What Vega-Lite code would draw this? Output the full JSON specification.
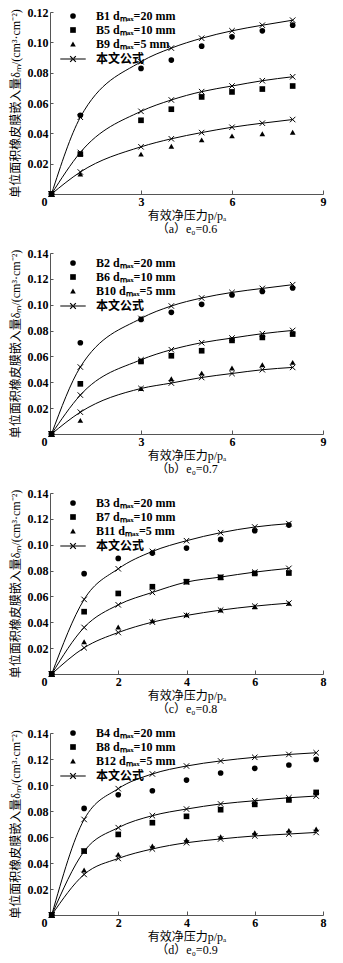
{
  "$schema": "https://vega.github.io/schema/vega-lite/v6.json",
  "padding": {"top": 6, "left": 9, "right": 5, "bottom": 5},
  "bounds": "flush",
  "spacing": 59,
  "datasets": {
    "pts": [
      {"panel":"a","s":"B1 dₘₐₓ=20 mm","kind":"obs","p":0.05,"v":0},
      {"panel":"a","s":"B1 dₘₐₓ=20 mm","kind":"obs","p":1,"v":0.0519},
      {"panel":"a","s":"B1 dₘₐₓ=20 mm","kind":"obs","p":3,"v":0.0828},
      {"panel":"a","s":"B1 dₘₐₓ=20 mm","kind":"obs","p":4,"v":0.0883},
      {"panel":"a","s":"B1 dₘₐₓ=20 mm","kind":"obs","p":5,"v":0.0975},
      {"panel":"a","s":"B1 dₘₐₓ=20 mm","kind":"obs","p":6,"v":0.1036},
      {"panel":"a","s":"B1 dₘₐₓ=20 mm","kind":"obs","p":7,"v":0.1076},
      {"panel":"a","s":"B1 dₘₐₓ=20 mm","kind":"obs","p":8,"v":0.1113},
      {"panel":"a","s":"B1 dₘₐₓ=20 mm","kind":"fit","p":0.05,"v":0},
      {"panel":"a","s":"B1 dₘₐₓ=20 mm","kind":"fit","p":1,"v":0.0506},
      {"panel":"a","s":"B1 dₘₐₓ=20 mm","kind":"fit","p":3,"v":0.0872},
      {"panel":"a","s":"B1 dₘₐₓ=20 mm","kind":"fit","p":4,"v":0.0962},
      {"panel":"a","s":"B1 dₘₐₓ=20 mm","kind":"fit","p":5,"v":0.1027},
      {"panel":"a","s":"B1 dₘₐₓ=20 mm","kind":"fit","p":6,"v":0.1076},
      {"panel":"a","s":"B1 dₘₐₓ=20 mm","kind":"fit","p":7,"v":0.1113},
      {"panel":"a","s":"B1 dₘₐₓ=20 mm","kind":"fit","p":8,"v":0.1146},
      {"panel":"a","s":"B5 dₘₐₓ=10 mm","kind":"obs","p":0.05,"v":0},
      {"panel":"a","s":"B5 dₘₐₓ=10 mm","kind":"obs","p":1,"v":0.0263},
      {"panel":"a","s":"B5 dₘₐₓ=10 mm","kind":"obs","p":3,"v":0.0486},
      {"panel":"a","s":"B5 dₘₐₓ=10 mm","kind":"obs","p":4,"v":0.0559},
      {"panel":"a","s":"B5 dₘₐₓ=10 mm","kind":"obs","p":5,"v":0.064},
      {"panel":"a","s":"B5 dₘₐₓ=10 mm","kind":"obs","p":6,"v":0.0673},
      {"panel":"a","s":"B5 dₘₐₓ=10 mm","kind":"obs","p":7,"v":0.0692},
      {"panel":"a","s":"B5 dₘₐₓ=10 mm","kind":"obs","p":8,"v":0.0712},
      {"panel":"a","s":"B5 dₘₐₓ=10 mm","kind":"fit","p":0.05,"v":0},
      {"panel":"a","s":"B5 dₘₐₓ=10 mm","kind":"fit","p":1,"v":0.0274},
      {"panel":"a","s":"B5 dₘₐₓ=10 mm","kind":"fit","p":3,"v":0.0545},
      {"panel":"a","s":"B5 dₘₐₓ=10 mm","kind":"fit","p":4,"v":0.062},
      {"panel":"a","s":"B5 dₘₐₓ=10 mm","kind":"fit","p":5,"v":0.0675},
      {"panel":"a","s":"B5 dₘₐₓ=10 mm","kind":"fit","p":6,"v":0.0712},
      {"panel":"a","s":"B5 dₘₐₓ=10 mm","kind":"fit","p":7,"v":0.0747},
      {"panel":"a","s":"B5 dₘₐₓ=10 mm","kind":"fit","p":8,"v":0.0773},
      {"panel":"a","s":"B9 dₘₐₓ=5 mm","kind":"obs","p":0.05,"v":0},
      {"panel":"a","s":"B9 dₘₐₓ=5 mm","kind":"obs","p":1,"v":0.0131},
      {"panel":"a","s":"B9 dₘₐₓ=5 mm","kind":"obs","p":3,"v":0.0263},
      {"panel":"a","s":"B9 dₘₐₓ=5 mm","kind":"obs","p":4,"v":0.0315},
      {"panel":"a","s":"B9 dₘₐₓ=5 mm","kind":"obs","p":5,"v":0.0357},
      {"panel":"a","s":"B9 dₘₐₓ=5 mm","kind":"obs","p":6,"v":0.0383},
      {"panel":"a","s":"B9 dₘₐₓ=5 mm","kind":"obs","p":7,"v":0.0397},
      {"panel":"a","s":"B9 dₘₐₓ=5 mm","kind":"obs","p":8,"v":0.0407},
      {"panel":"a","s":"B9 dₘₐₓ=5 mm","kind":"fit","p":0.05,"v":0},
      {"panel":"a","s":"B9 dₘₐₓ=5 mm","kind":"fit","p":1,"v":0.0145},
      {"panel":"a","s":"B9 dₘₐₓ=5 mm","kind":"fit","p":3,"v":0.0311},
      {"panel":"a","s":"B9 dₘₐₓ=5 mm","kind":"fit","p":4,"v":0.0364},
      {"panel":"a","s":"B9 dₘₐₓ=5 mm","kind":"fit","p":5,"v":0.0405},
      {"panel":"a","s":"B9 dₘₐₓ=5 mm","kind":"fit","p":6,"v":0.044},
      {"panel":"a","s":"B9 dₘₐₓ=5 mm","kind":"fit","p":7,"v":0.0467},
      {"panel":"a","s":"B9 dₘₐₓ=5 mm","kind":"fit","p":8,"v":0.0491},

      {"panel":"b","s":"B2 dₘₐₓ=20 mm","kind":"obs","p":0.05,"v":0},
      {"panel":"b","s":"B2 dₘₐₓ=20 mm","kind":"obs","p":1,"v":0.0706},
      {"panel":"b","s":"B2 dₘₐₓ=20 mm","kind":"obs","p":3,"v":0.0886},
      {"panel":"b","s":"B2 dₘₐₓ=20 mm","kind":"obs","p":4,"v":0.0941},
      {"panel":"b","s":"B2 dₘₐₓ=20 mm","kind":"obs","p":5,"v":0.1003},
      {"panel":"b","s":"B2 dₘₐₓ=20 mm","kind":"obs","p":6,"v":0.1075},
      {"panel":"b","s":"B2 dₘₐₓ=20 mm","kind":"obs","p":7,"v":0.1103},
      {"panel":"b","s":"B2 dₘₐₓ=20 mm","kind":"obs","p":8,"v":0.1129},
      {"panel":"b","s":"B2 dₘₐₓ=20 mm","kind":"fit","p":0.05,"v":0},
      {"panel":"b","s":"B2 dₘₐₓ=20 mm","kind":"fit","p":1,"v":0.0518},
      {"panel":"b","s":"B2 dₘₐₓ=20 mm","kind":"fit","p":3,"v":0.0894},
      {"panel":"b","s":"B2 dₘₐₓ=20 mm","kind":"fit","p":4,"v":0.099},
      {"panel":"b","s":"B2 dₘₐₓ=20 mm","kind":"fit","p":5,"v":0.1052},
      {"panel":"b","s":"B2 dₘₐₓ=20 mm","kind":"fit","p":6,"v":0.1095},
      {"panel":"b","s":"B2 dₘₐₓ=20 mm","kind":"fit","p":7,"v":0.1126},
      {"panel":"b","s":"B2 dₘₐₓ=20 mm","kind":"fit","p":8,"v":0.1155},
      {"panel":"b","s":"B6 dₘₐₓ=10 mm","kind":"obs","p":0.05,"v":0},
      {"panel":"b","s":"B6 dₘₐₓ=10 mm","kind":"obs","p":1,"v":0.0388},
      {"panel":"b","s":"B6 dₘₐₓ=10 mm","kind":"obs","p":3,"v":0.0561},
      {"panel":"b","s":"B6 dₘₐₓ=10 mm","kind":"obs","p":4,"v":0.0605},
      {"panel":"b","s":"B6 dₘₐₓ=10 mm","kind":"obs","p":5,"v":0.0644},
      {"panel":"b","s":"B6 dₘₐₓ=10 mm","kind":"obs","p":6,"v":0.0724},
      {"panel":"b","s":"B6 dₘₐₓ=10 mm","kind":"obs","p":7,"v":0.0747},
      {"panel":"b","s":"B6 dₘₐₓ=10 mm","kind":"obs","p":8,"v":0.0773},
      {"panel":"b","s":"B6 dₘₐₓ=10 mm","kind":"fit","p":0.05,"v":0},
      {"panel":"b","s":"B6 dₘₐₓ=10 mm","kind":"fit","p":1,"v":0.0301},
      {"panel":"b","s":"B6 dₘₐₓ=10 mm","kind":"fit","p":3,"v":0.0574},
      {"panel":"b","s":"B6 dₘₐₓ=10 mm","kind":"fit","p":4,"v":0.0652},
      {"panel":"b","s":"B6 dₘₐₓ=10 mm","kind":"fit","p":5,"v":0.0706},
      {"panel":"b","s":"B6 dₘₐₓ=10 mm","kind":"fit","p":6,"v":0.0742},
      {"panel":"b","s":"B6 dₘₐₓ=10 mm","kind":"fit","p":7,"v":0.0776},
      {"panel":"b","s":"B6 dₘₐₓ=10 mm","kind":"fit","p":8,"v":0.0801},
      {"panel":"b","s":"B10 dₘₐₓ=5 mm","kind":"obs","p":0.05,"v":0},
      {"panel":"b","s":"B10 dₘₐₓ=5 mm","kind":"obs","p":1,"v":0.0105},
      {"panel":"b","s":"B10 dₘₐₓ=5 mm","kind":"obs","p":3,"v":0.0352},
      {"panel":"b","s":"B10 dₘₐₓ=5 mm","kind":"obs","p":4,"v":0.0427},
      {"panel":"b","s":"B10 dₘₐₓ=5 mm","kind":"obs","p":5,"v":0.0471},
      {"panel":"b","s":"B10 dₘₐₓ=5 mm","kind":"obs","p":6,"v":0.051},
      {"panel":"b","s":"B10 dₘₐₓ=5 mm","kind":"obs","p":7,"v":0.0536},
      {"panel":"b","s":"B10 dₘₐₓ=5 mm","kind":"obs","p":8,"v":0.0554},
      {"panel":"b","s":"B10 dₘₐₓ=5 mm","kind":"fit","p":0.05,"v":0},
      {"panel":"b","s":"B10 dₘₐₓ=5 mm","kind":"fit","p":1,"v":0.0169},
      {"panel":"b","s":"B10 dₘₐₓ=5 mm","kind":"fit","p":3,"v":0.0352},
      {"panel":"b","s":"B10 dₘₐₓ=5 mm","kind":"fit","p":4,"v":0.0394},
      {"panel":"b","s":"B10 dₘₐₓ=5 mm","kind":"fit","p":5,"v":0.0437},
      {"panel":"b","s":"B10 dₘₐₓ=5 mm","kind":"fit","p":6,"v":0.0468},
      {"panel":"b","s":"B10 dₘₐₓ=5 mm","kind":"fit","p":7,"v":0.0497},
      {"panel":"b","s":"B10 dₘₐₓ=5 mm","kind":"fit","p":8,"v":0.0515},

      {"panel":"c","s":"B3 dₘₐₓ=20 mm","kind":"obs","p":0.05,"v":0},
      {"panel":"c","s":"B3 dₘₐₓ=20 mm","kind":"obs","p":1,"v":0.0776},
      {"panel":"c","s":"B3 dₘₐₓ=20 mm","kind":"obs","p":2,"v":0.0894},
      {"panel":"c","s":"B3 dₘₐₓ=20 mm","kind":"obs","p":3,"v":0.0935},
      {"panel":"c","s":"B3 dₘₐₓ=20 mm","kind":"obs","p":4,"v":0.0974},
      {"panel":"c","s":"B3 dₘₐₓ=20 mm","kind":"obs","p":5,"v":0.1041},
      {"panel":"c","s":"B3 dₘₐₓ=20 mm","kind":"obs","p":6,"v":0.1108},
      {"panel":"c","s":"B3 dₘₐₓ=20 mm","kind":"obs","p":7,"v":0.1152},
      {"panel":"c","s":"B3 dₘₐₓ=20 mm","kind":"fit","p":0.05,"v":0},
      {"panel":"c","s":"B3 dₘₐₓ=20 mm","kind":"fit","p":1,"v":0.0577},
      {"panel":"c","s":"B3 dₘₐₓ=20 mm","kind":"fit","p":2,"v":0.0814},
      {"panel":"c","s":"B3 dₘₐₓ=20 mm","kind":"fit","p":3,"v":0.0948},
      {"panel":"c","s":"B3 dₘₐₓ=20 mm","kind":"fit","p":4,"v":0.1031},
      {"panel":"c","s":"B3 dₘₐₓ=20 mm","kind":"fit","p":5,"v":0.1093},
      {"panel":"c","s":"B3 dₘₐₓ=20 mm","kind":"fit","p":6,"v":0.1137},
      {"panel":"c","s":"B3 dₘₐₓ=20 mm","kind":"fit","p":7,"v":0.1163},
      {"panel":"c","s":"B7 dₘₐₓ=10 mm","kind":"obs","p":0.05,"v":0},
      {"panel":"c","s":"B7 dₘₐₓ=10 mm","kind":"obs","p":1,"v":0.0482},
      {"panel":"c","s":"B7 dₘₐₓ=10 mm","kind":"obs","p":2,"v":0.0623},
      {"panel":"c","s":"B7 dₘₐₓ=10 mm","kind":"obs","p":3,"v":0.0675},
      {"panel":"c","s":"B7 dₘₐₓ=10 mm","kind":"obs","p":4,"v":0.0714},
      {"panel":"c","s":"B7 dₘₐₓ=10 mm","kind":"obs","p":5,"v":0.0747},
      {"panel":"c","s":"B7 dₘₐₓ=10 mm","kind":"obs","p":6,"v":0.0778},
      {"panel":"c","s":"B7 dₘₐₓ=10 mm","kind":"obs","p":7,"v":0.0781},
      {"panel":"c","s":"B7 dₘₐₓ=10 mm","kind":"fit","p":0.05,"v":0},
      {"panel":"c","s":"B7 dₘₐₓ=10 mm","kind":"fit","p":1,"v":0.036},
      {"panel":"c","s":"B7 dₘₐₓ=10 mm","kind":"fit","p":2,"v":0.0535},
      {"panel":"c","s":"B7 dₘₐₓ=10 mm","kind":"fit","p":3,"v":0.0631},
      {"panel":"c","s":"B7 dₘₐₓ=10 mm","kind":"fit","p":4,"v":0.0711},
      {"panel":"c","s":"B7 dₘₐₓ=10 mm","kind":"fit","p":5,"v":0.075},
      {"panel":"c","s":"B7 dₘₐₓ=10 mm","kind":"fit","p":6,"v":0.0788},
      {"panel":"c","s":"B7 dₘₐₓ=10 mm","kind":"fit","p":7,"v":0.0817},
      {"panel":"c","s":"B11 dₘₐₓ=5 mm","kind":"obs","p":0.05,"v":0},
      {"panel":"c","s":"B11 dₘₐₓ=5 mm","kind":"obs","p":1,"v":0.0249},
      {"panel":"c","s":"B11 dₘₐₓ=5 mm","kind":"obs","p":2,"v":0.0363},
      {"panel":"c","s":"B11 dₘₐₓ=5 mm","kind":"obs","p":3,"v":0.0412},
      {"panel":"c","s":"B11 dₘₐₓ=5 mm","kind":"obs","p":4,"v":0.0458},
      {"panel":"c","s":"B11 dₘₐₓ=5 mm","kind":"obs","p":5,"v":0.0494},
      {"panel":"c","s":"B11 dₘₐₓ=5 mm","kind":"obs","p":6,"v":0.052},
      {"panel":"c","s":"B11 dₘₐₓ=5 mm","kind":"obs","p":7,"v":0.0546},
      {"panel":"c","s":"B11 dₘₐₓ=5 mm","kind":"fit","p":0.05,"v":0},
      {"panel":"c","s":"B11 dₘₐₓ=5 mm","kind":"fit","p":1,"v":0.0203},
      {"panel":"c","s":"B11 dₘₐₓ=5 mm","kind":"fit","p":2,"v":0.0321},
      {"panel":"c","s":"B11 dₘₐₓ=5 mm","kind":"fit","p":3,"v":0.0401},
      {"panel":"c","s":"B11 dₘₐₓ=5 mm","kind":"fit","p":4,"v":0.0453},
      {"panel":"c","s":"B11 dₘₐₓ=5 mm","kind":"fit","p":5,"v":0.0494},
      {"panel":"c","s":"B11 dₘₐₓ=5 mm","kind":"fit","p":6,"v":0.0525},
      {"panel":"c","s":"B11 dₘₐₓ=5 mm","kind":"fit","p":7,"v":0.0548},

      {"panel":"d","s":"B4 dₘₐₓ=20 mm","kind":"obs","p":0.05,"v":0},
      {"panel":"d","s":"B4 dₘₐₓ=20 mm","kind":"obs","p":1,"v":0.082},
      {"panel":"d","s":"B4 dₘₐₓ=20 mm","kind":"obs","p":2,"v":0.0925},
      {"panel":"d","s":"B4 dₘₐₓ=20 mm","kind":"obs","p":3,"v":0.0956},
      {"panel":"d","s":"B4 dₘₐₓ=20 mm","kind":"obs","p":4,"v":0.1038},
      {"panel":"d","s":"B4 dₘₐₓ=20 mm","kind":"obs","p":5,"v":0.1092},
      {"panel":"d","s":"B4 dₘₐₓ=20 mm","kind":"obs","p":6,"v":0.1128},
      {"panel":"d","s":"B4 dₘₐₓ=20 mm","kind":"obs","p":7,"v":0.1154},
      {"panel":"d","s":"B4 dₘₐₓ=20 mm","kind":"obs","p":7.8,"v":0.1197},
      {"panel":"d","s":"B4 dₘₐₓ=20 mm","kind":"fit","p":0.05,"v":0},
      {"panel":"d","s":"B4 dₘₐₓ=20 mm","kind":"fit","p":1,"v":0.0735},
      {"panel":"d","s":"B4 dₘₐₓ=20 mm","kind":"fit","p":2,"v":0.0972},
      {"panel":"d","s":"B4 dₘₐₓ=20 mm","kind":"fit","p":3,"v":0.1085},
      {"panel":"d","s":"B4 dₘₐₓ=20 mm","kind":"fit","p":4,"v":0.1146},
      {"panel":"d","s":"B4 dₘₐₓ=20 mm","kind":"fit","p":5,"v":0.1185},
      {"panel":"d","s":"B4 dₘₐₓ=20 mm","kind":"fit","p":6,"v":0.1213},
      {"panel":"d","s":"B4 dₘₐₓ=20 mm","kind":"fit","p":7,"v":0.1235},
      {"panel":"d","s":"B4 dₘₐₓ=20 mm","kind":"fit","p":7.8,"v":0.1248},
      {"panel":"d","s":"B8 dₘₐₓ=10 mm","kind":"obs","p":0.05,"v":0},
      {"panel":"d","s":"B8 dₘₐₓ=10 mm","kind":"obs","p":1,"v":0.0492},
      {"panel":"d","s":"B8 dₘₐₓ=10 mm","kind":"obs","p":2,"v":0.062},
      {"panel":"d","s":"B8 dₘₐₓ=10 mm","kind":"obs","p":3,"v":0.071},
      {"panel":"d","s":"B8 dₘₐₓ=10 mm","kind":"obs","p":4,"v":0.0759},
      {"panel":"d","s":"B8 dₘₐₓ=10 mm","kind":"obs","p":5,"v":0.081},
      {"panel":"d","s":"B8 dₘₐₓ=10 mm","kind":"obs","p":6,"v":0.0851},
      {"panel":"d","s":"B8 dₘₐₓ=10 mm","kind":"obs","p":7,"v":0.0885},
      {"panel":"d","s":"B8 dₘₐₓ=10 mm","kind":"obs","p":7.8,"v":0.0943},
      {"panel":"d","s":"B8 dₘₐₓ=10 mm","kind":"fit","p":0.05,"v":0},
      {"panel":"d","s":"B8 dₘₐₓ=10 mm","kind":"fit","p":1,"v":0.049},
      {"panel":"d","s":"B8 dₘₐₓ=10 mm","kind":"fit","p":2,"v":0.0672},
      {"panel":"d","s":"B8 dₘₐₓ=10 mm","kind":"fit","p":3,"v":0.0764},
      {"panel":"d","s":"B8 dₘₐₓ=10 mm","kind":"fit","p":4,"v":0.0815},
      {"panel":"d","s":"B8 dₘₐₓ=10 mm","kind":"fit","p":5,"v":0.0854},
      {"panel":"d","s":"B8 dₘₐₓ=10 mm","kind":"fit","p":6,"v":0.0879},
      {"panel":"d","s":"B8 dₘₐₓ=10 mm","kind":"fit","p":7,"v":0.0902},
      {"panel":"d","s":"B8 dₘₐₓ=10 mm","kind":"fit","p":7.8,"v":0.0915},
      {"panel":"d","s":"B12 dₘₐₓ=5 mm","kind":"obs","p":0.05,"v":0},
      {"panel":"d","s":"B12 dₘₐₓ=5 mm","kind":"obs","p":1,"v":0.0346},
      {"panel":"d","s":"B12 dₘₐₓ=5 mm","kind":"obs","p":2,"v":0.0466},
      {"panel":"d","s":"B12 dₘₐₓ=5 mm","kind":"obs","p":3,"v":0.0531},
      {"panel":"d","s":"B12 dₘₐₓ=5 mm","kind":"obs","p":4,"v":0.0577},
      {"panel":"d","s":"B12 dₘₐₓ=5 mm","kind":"obs","p":5,"v":0.0602},
      {"panel":"d","s":"B12 dₘₐₓ=5 mm","kind":"obs","p":6,"v":0.0633},
      {"panel":"d","s":"B12 dₘₐₓ=5 mm","kind":"obs","p":7,"v":0.0651},
      {"panel":"d","s":"B12 dₘₐₓ=5 mm","kind":"obs","p":7.8,"v":0.0662},
      {"panel":"d","s":"B12 dₘₐₓ=5 mm","kind":"fit","p":0.05,"v":0},
      {"panel":"d","s":"B12 dₘₐₓ=5 mm","kind":"fit","p":1,"v":0.0312},
      {"panel":"d","s":"B12 dₘₐₓ=5 mm","kind":"fit","p":2,"v":0.0435},
      {"panel":"d","s":"B12 dₘₐₓ=5 mm","kind":"fit","p":3,"v":0.0508},
      {"panel":"d","s":"B12 dₘₐₓ=5 mm","kind":"fit","p":4,"v":0.0556},
      {"panel":"d","s":"B12 dₘₐₓ=5 mm","kind":"fit","p":5,"v":0.0585},
      {"panel":"d","s":"B12 dₘₐₓ=5 mm","kind":"fit","p":6,"v":0.0608},
      {"panel":"d","s":"B12 dₘₐₓ=5 mm","kind":"fit","p":7,"v":0.0623},
      {"panel":"d","s":"B12 dₘₐₓ=5 mm","kind":"fit","p":7.8,"v":0.0635}
    ]
  },
  "data": {"name": "pts"},
  "resolve": {"scale": {"shape": "independent", "x": "independent", "y": "independent"}, "legend": {"shape": "independent"}},
  "vconcat": [
    {
      "width": 273, "height": 182,
      "transform": [{"filter": "datum.panel === 'a'"}],
      "encoding": {
        "x": {"field": "p", "type": "quantitative", "scale": {"domain": [0, 9], "nice": false},
              "axis": {"values": [0, 3, 6, 9], "format": "d", "title": ["有效净压力p/pₐ", "（a）e₀=0.6"],
                       "labelOffset": {"condition": {"test": "datum.value === 0", "value": -6}, "value": 0}}},
        "y": {"field": "v", "type": "quantitative", "scale": {"domain": [0, 0.12], "nice": false},
              "axis": {"values": [0.02, 0.04, 0.06, 0.08, 0.1, 0.12], "format": ".2f", "title": "单位面积橡皮膜嵌入量δₘ/(cm³·cm⁻²)"}}
      },
      "layer": [
        {"transform": [{"filter": "datum.kind === 'fit'"}], "mark": {"type": "line", "interpolate": "monotone", "color": "black", "strokeWidth": 1}, "encoding": {"detail": {"field": "s"}}},
        {"transform": [{"filter": "datum.kind === 'fit'"}], "mark": {"type": "point", "shape": "M-1,-1L1,1M-1,1L1,-1", "stroke": "black", "strokeWidth": 1, "size": 30, "opacity": 1}},
        {"transform": [{"filter": "datum.kind === 'obs'"}], "mark": {"type": "point", "filled": true, "color": "black", "size": 32, "opacity": 1},
         "encoding": {"shape": {"field": "s", "type": "nominal",
           "scale": {"domain": ["B1 dₘₐₓ=20 mm", "B5 dₘₐₓ=10 mm", "B9 dₘₐₓ=5 mm", "本文公式"], "range": ["circle", "square", "triangle-up", "M-4.5,-0.18L4.5,-0.18L4.5,0.18L-4.5,0.18Z M-1.15,-0.85L-0.85,-1.15L1.15,0.85L0.85,1.15Z M-1.15,0.85L-0.85,1.15L1.15,-0.85L0.85,-1.15Z"]},
           "legend": {"legendX": 17, "legendY": -2}}}}
      ]
    },
    {
      "width": 273, "height": 181,
      "transform": [{"filter": "datum.panel === 'b'"}],
      "encoding": {
        "x": {"field": "p", "type": "quantitative", "scale": {"domain": [0, 9], "nice": false},
              "axis": {"values": [0, 3, 6, 9], "format": "d", "title": ["有效净压力p/pₐ", "（b）e₀=0.7"],
                       "labelOffset": {"condition": {"test": "datum.value === 0", "value": -6}, "value": 0}}},
        "y": {"field": "v", "type": "quantitative", "scale": {"domain": [0, 0.14], "nice": false},
              "axis": {"values": [0.02, 0.04, 0.06, 0.08, 0.1, 0.12, 0.14], "format": ".2f", "title": "单位面积橡皮膜嵌入量δₘ/(cm³·cm⁻²)"}}
      },
      "layer": [
        {"transform": [{"filter": "datum.kind === 'fit'"}], "mark": {"type": "line", "interpolate": "monotone", "color": "black", "strokeWidth": 1}, "encoding": {"detail": {"field": "s"}}},
        {"transform": [{"filter": "datum.kind === 'fit'"}], "mark": {"type": "point", "shape": "M-1,-1L1,1M-1,1L1,-1", "stroke": "black", "strokeWidth": 1, "size": 30, "opacity": 1}},
        {"transform": [{"filter": "datum.kind === 'obs'"}], "mark": {"type": "point", "filled": true, "color": "black", "size": 32, "opacity": 1},
         "encoding": {"shape": {"field": "s", "type": "nominal",
           "scale": {"domain": ["B2 dₘₐₓ=20 mm", "B6 dₘₐₓ=10 mm", "B10 dₘₐₓ=5 mm", "本文公式"], "range": ["circle", "square", "triangle-up", "M-4.5,-0.18L4.5,-0.18L4.5,0.18L-4.5,0.18Z M-1.15,-0.85L-0.85,-1.15L1.15,0.85L0.85,1.15Z M-1.15,0.85L-0.85,1.15L1.15,-0.85L0.85,-1.15Z"]},
           "legend": {"legendX": 17, "legendY": 4}}}}
      ]
    },
    {
      "width": 273, "height": 181,
      "transform": [{"filter": "datum.panel === 'c'"}],
      "encoding": {
        "x": {"field": "p", "type": "quantitative", "scale": {"domain": [0, 8], "nice": false},
              "axis": {"values": [0, 2, 4, 6, 8], "format": "d", "title": ["有效净压力p/pₐ", "（c）e₀=0.8"],
                       "labelOffset": {"condition": {"test": "datum.value === 0", "value": -6}, "value": 0}}},
        "y": {"field": "v", "type": "quantitative", "scale": {"domain": [0, 0.14], "nice": false},
              "axis": {"values": [0.02, 0.04, 0.06, 0.08, 0.1, 0.12, 0.14], "format": ".2f", "title": "单位面积橡皮膜嵌入量δₘ/(cm³·cm⁻²)"}}
      },
      "layer": [
        {"transform": [{"filter": "datum.kind === 'fit'"}], "mark": {"type": "line", "interpolate": "monotone", "color": "black", "strokeWidth": 1}, "encoding": {"detail": {"field": "s"}}},
        {"transform": [{"filter": "datum.kind === 'fit'"}], "mark": {"type": "point", "shape": "M-1,-1L1,1M-1,1L1,-1", "stroke": "black", "strokeWidth": 1, "size": 30, "opacity": 1}},
        {"transform": [{"filter": "datum.kind === 'obs'"}], "mark": {"type": "point", "filled": true, "color": "black", "size": 32, "opacity": 1},
         "encoding": {"shape": {"field": "s", "type": "nominal",
           "scale": {"domain": ["B3 dₘₐₓ=20 mm", "B7 dₘₐₓ=10 mm", "B11 dₘₐₓ=5 mm", "本文公式"], "range": ["circle", "square", "triangle-up", "M-4.5,-0.18L4.5,-0.18L4.5,0.18L-4.5,0.18Z M-1.15,-0.85L-0.85,-1.15L1.15,0.85L0.85,1.15Z M-1.15,0.85L-0.85,1.15L1.15,-0.85L0.85,-1.15Z"]},
           "legend": {"legendX": 17, "legendY": 4}}}}
      ]
    },
    {
      "width": 273, "height": 182,
      "transform": [{"filter": "datum.panel === 'd'"}],
      "encoding": {
        "x": {"field": "p", "type": "quantitative", "scale": {"domain": [0, 8], "nice": false},
              "axis": {"values": [0, 2, 4, 6, 8], "format": "d", "title": ["有效净压力p/pₐ", "（d）e₀=0.9"],
                       "labelOffset": {"condition": {"test": "datum.value === 0", "value": -6}, "value": 0}}},
        "y": {"field": "v", "type": "quantitative", "scale": {"domain": [0, 0.14], "nice": false},
              "axis": {"values": [0.02, 0.04, 0.06, 0.08, 0.1, 0.12, 0.14], "format": ".2f", "title": "单位面积橡皮膜嵌入量δₘ/(cm³·cm⁻²)"}}
      },
      "layer": [
        {"transform": [{"filter": "datum.kind === 'fit'"}], "mark": {"type": "line", "interpolate": "monotone", "color": "black", "strokeWidth": 1}, "encoding": {"detail": {"field": "s"}}},
        {"transform": [{"filter": "datum.kind === 'fit'"}], "mark": {"type": "point", "shape": "M-1,-1L1,1M-1,1L1,-1", "stroke": "black", "strokeWidth": 1, "size": 30, "opacity": 1}},
        {"transform": [{"filter": "datum.kind === 'obs'"}], "mark": {"type": "point", "filled": true, "color": "black", "size": 32, "opacity": 1},
         "encoding": {"shape": {"field": "s", "type": "nominal",
           "scale": {"domain": ["B4 dₘₐₓ=20 mm", "B8 dₘₐₓ=10 mm", "B12 dₘₐₓ=5 mm", "本文公式"], "range": ["circle", "square", "triangle-up", "M-4.5,-0.18L4.5,-0.18L4.5,0.18L-4.5,0.18Z M-1.15,-0.85L-0.85,-1.15L1.15,0.85L0.85,1.15Z M-1.15,0.85L-0.85,1.15L1.15,-0.85L0.85,-1.15Z"]},
           "legend": {"legendX": 17, "legendY": -6}}}}
      ]
    }
  ],
  "config": {
    "font": "Liberation Serif, Noto Sans CJK SC",
    "view": {"stroke": null},
    "axis": {
      "grid": false,
      "labelFont": "Liberation Serif, Noto Sans CJK SC",
      "titleFont": "Liberation Serif, Noto Sans CJK SC",
      "labelFontSize": 12, "labelFontWeight": "bold", "labelColor": "black",
      "titleColor": "black", "titleFontWeight": "normal",
      "domainColor": "#555", "tickColor": "#555", "domainWidth": 1, "tickWidth": 1
    },
    "axisX": {"tickSize": -4, "labelPadding": 6, "titleFontSize": 12, "titlePadding": 3, "titleLineHeight": 13, "labelFlush": false},
    "axisY": {"domain": true, "ticks": true, "tickSize": -3, "labelPadding": 5, "titleFontSize": 12, "titlePadding": 5},
    "legend": {
      "orient": "none", "title": null,
      "labelFont": "Liberation Serif, Noto Sans CJK SC", "labelFontSize": 12, "labelFontWeight": "bold", "labelColor": "black",
      "symbolSize": 32, "symbolOpacity": 1,
      "labelOffset": 17, "rowPadding": 2, "padding": 0
    }
  }
}
